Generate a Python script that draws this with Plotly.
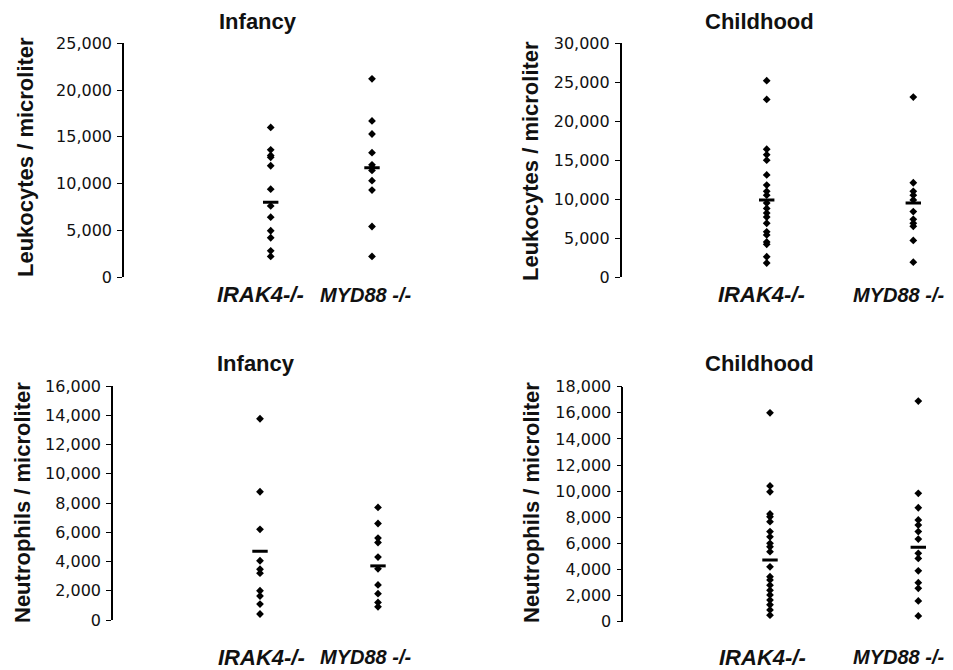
import plotly.graph_objects as go

W, H = 953, 670
OFF = 8  # page body offset in the rendered page

categories = ["IRAK4-/-", "MYD88 -/-"]
panel_titles = ["Infancy", "Childhood", "Infancy", "Childhood"]
y_titles = ["Leukocytes / microliter", "Leukocytes / microliter",
            "Neutrophils / microliter", "Neutrophils / microliter"]
y_max = [25000, 30000, 16000, 18000]
y_dtick = [5000, 5000, 2000, 2000]

# Leukocytes, infancy
leu_inf_irak4 = [16000, 13600, 13000, 12800, 11900, 9400, 7600, 6400, 4950, 4200, 2800, 2200]
leu_inf_myd88 = [21200, 16700, 15300, 13300, 12000, 11700, 11400, 10300, 9300, 5400, 2200]
leu_inf_center = [8000, 11700]
# Leukocytes, childhood
leu_child_irak4 = [25200, 22800, 16400, 15700, 15000, 13100, 11800, 11000, 10500, 9500,
                   8800, 8200, 7700, 6900, 5800, 5400, 4500, 4200, 2600, 1800]
leu_child_myd88 = [23100, 12100, 11000, 10500, 9900, 8400, 7400, 6900, 6500, 4700, 1900]
leu_child_center = [9900, 9500]
# Neutrophils, infancy
neu_inf_irak4 = [13760, 8770, 6200, 4050, 3470, 3200, 2000, 1640, 1090, 410]
neu_inf_myd88 = [7700, 6600, 5600, 5300, 4300, 3500, 2400, 1800, 1200, 900]
neu_inf_center = [4700, 3700]
# Neutrophils, childhood
neu_child_irak4 = [16000, 10400, 9950, 8250, 8040, 7660, 6900, 6500, 6000, 5740, 5360,
                   4200, 3450, 3200, 2800, 2400, 2050, 1660, 1300, 900, 500]
neu_child_myd88 = [16900, 9830, 8730, 7790, 7400, 6900, 6330, 5240, 4850, 3900, 2990,
                   2560, 1590, 440]
neu_child_center = [4720, 5700]

series = [
    (leu_inf_irak4, leu_inf_myd88, leu_inf_center),
    (leu_child_irak4, leu_child_myd88, leu_child_center),
    (neu_inf_irak4, neu_inf_myd88, neu_inf_center),
    (neu_child_irak4, neu_child_myd88, neu_child_center),
]

# pixel layout of each panel (axis line x, right edge, category centres, y-zero px, y-top px)
geom = [
    dict(ax=124, right=460, c0=270.7, c1=372, yb=277, yt=43.3, title=(258, 22), ytitle=(25, 157),
         lab_y=295, lab_shift=(-10, -7)),
    dict(ax=621.7, right=960, c0=766.7, c1=913.3, yb=277, yt=43.3, title=(759, 22), ytitle=(531, 161),
         lab_y=295, lab_shift=(-5, -15)),
    dict(ax=113, right=460, c0=260, c1=378, yb=620, yt=386, title=(256, 363), ytitle=(22, 503),
         lab_y=657, lab_shift=(1, -13)),
    dict(ax=623.3, right=960, c0=770, c1=918.3, yb=621.7, yt=386.7, title=(759, 363), ytitle=(531, 503),
         lab_y=657, lab_shift=(-8, -20)),
]
label_sizes = [22, 20]


def px(x):
    return (x - OFF) / W


def py(y):
    return 1 - (y - OFF) / H


tick_font = dict(family="DejaVu Sans", size=16, color="#111")
bold_font = dict(family="Liberation Sans", size=22, color="#111", weight="bold")

fig = go.Figure()
layout = dict(template="none", width=W, height=H, margin=dict(l=0, r=0, t=0, b=0, pad=0),
              plot_bgcolor="white", paper_bgcolor="white", showlegend=False)
annotations = []

for i, (g, (a, b, c)) in enumerate(zip(geom, series)):
    n = "" if i == 0 else str(i + 1)
    xa, ya = "xaxis" + n, "yaxis" + n
    xr, yr = "x" + n, "y" + n
    scale = g["c1"] - g["c0"]
    x_lo = (g["ax"] - g["c0"]) / scale
    x_hi = (g["right"] - g["c0"]) / scale
    layout[xa] = dict(domain=[px(g["ax"]), min(1, px(g["right"]))], range=[x_lo, x_hi],
                      anchor=yr, showline=False, showgrid=False, zeroline=False,
                      showticklabels=False, ticks="", automargin=False)
    layout[ya] = dict(domain=[py(g["yb"]), py(g["yt"])], range=[0, y_max[i]],
                      anchor=xr, showline=True, linecolor="black", linewidth=1.6,
                      ticks="outside", ticklen=5, tickwidth=1.2, tickcolor="black",
                      dtick=y_dtick[i], tick0=0, tickformat=",d", tickfont=tick_font,
                      showgrid=False, zeroline=False, ticklabelstandoff=2, automargin=False)
    for k, vals in enumerate([a, b]):
        fig.add_trace(go.Scatter(x=[k] * len(vals), y=vals, mode="markers", xaxis=xr, yaxis=yr,
                                 cliponaxis=False,
                                 marker=dict(symbol="diamond", size=6, color="black")))
    fig.add_trace(go.Scatter(x=[0, 1], y=c, mode="markers", xaxis=xr, yaxis=yr,
                             marker=dict(symbol="line-ew", size=11,
                                         line=dict(color="black", width=3))))
    # panel title
    annotations.append(dict(text=panel_titles[i], xref="paper", yref="paper",
                            x=px(g["title"][0]), y=py(g["title"][1]),
                            showarrow=False, font=bold_font, xanchor="center", yanchor="middle"))
    # y title
    annotations.append(dict(text=y_titles[i], xref="paper", yref="paper",
                            x=px(g["ytitle"][0]), y=py(g["ytitle"][1]), textangle=-90,
                            showarrow=False, font=bold_font, xanchor="center", yanchor="middle"))
    # category labels
    for k, cat in enumerate(categories):
        annotations.append(dict(text=cat, xref=xr, yref="paper", x=k, y=py(g["lab_y"]),
                                xshift=g["lab_shift"][k], showarrow=False,
                                font=dict(family="Liberation Sans", size=label_sizes[k],
                                          color="#111", weight="bold", style="italic"),
                                xanchor="center", yanchor="middle"))

layout["annotations"] = annotations
fig.update_layout(**layout)
fig.write_html("out.html")
